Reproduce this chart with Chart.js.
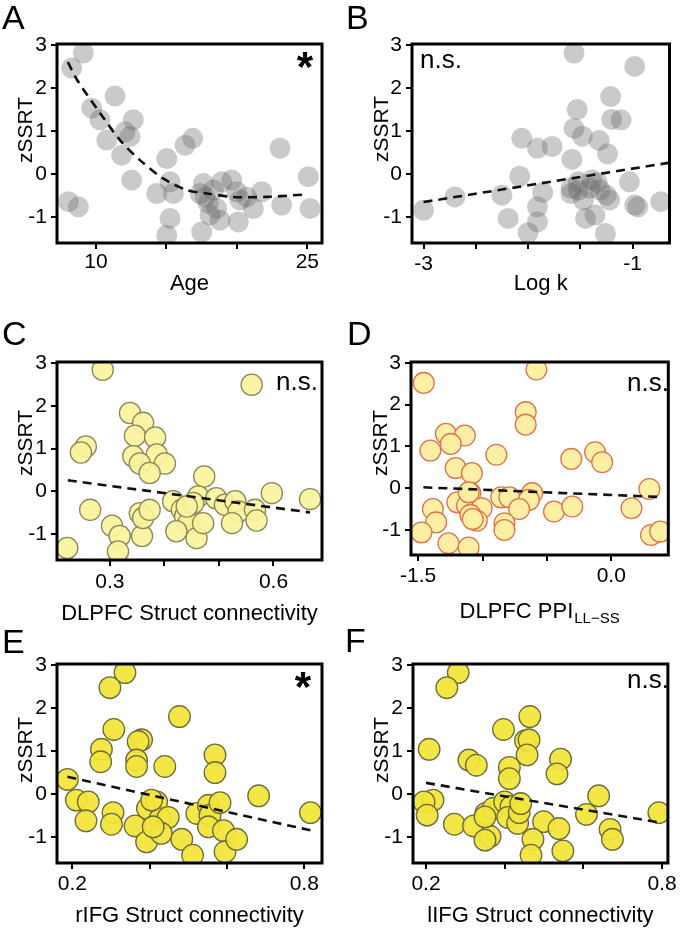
<!DOCTYPE html>
<html>
<head>
<meta charset="utf-8">
<title>zSSRT correlations</title>
<script src="https://cdn.jsdelivr.net/npm/chart.js@4.4.1/dist/chart.umd.min.js"></script>
<style>
    html, body { margin: 0; padding: 0; background: #fff; overflow: hidden; }
    #fig { position: relative; width: 680px; height: 930px; }
    #fig canvas { position: absolute; }
</style>
</head>
<body>
<div id="fig"></div>
<script>
// --- Data ---

// Y axis (shared by all panels)
const yTicks = [-1, 0, 1, 2, 3];
const yTickLabels = ['-1', '0', '1', '2', '3'];

// A: Age
const ageX = [9.10, 8.27, 11.35, 9.69, 10.28, 12.65, 12.06, 12.41, 10.76, 16.32, 16.86, 11.82, 15.02, 23.06, 12.53, 25.07, 14.31, 15.25, 15.49, 8.04, 8.75, 15.25, 15.02, 17.50, 17.62, 17.74, 17.97, 18.09, 18.80, 18.92, 19.63, 20.10, 19.98, 20.69, 21.17, 21.76, 23.18, 25.19, 18.33, 17.38, 20.22, 18.56];
const ageY = [2.81, 2.46, 1.81, 1.53, 1.26, 1.26, 0.98, 0.87, 0.79, 0.67, 0.83, 0.44, 0.36, 0.60, -0.14, -0.06, -0.45, -0.18, -0.45, -0.64, -0.76, -1.03, -1.42, -1.34, -0.22, -0.53, -0.68, -0.95, -1.07, -0.18, -0.14, -1.11, -0.41, -0.53, -0.80, -0.41, -0.72, -0.80, -0.37, -0.45, -0.60, -0.80];
const ageFitX = [8.0, 8.65, 10.28, 11.7, 13.1, 14.76, 16.45, 17.9, 19.7, 22.1, 25.0];
const ageFitY = [2.6, 2.19, 1.42, 0.79, 0.33, -0.10, -0.37, -0.45, -0.53, -0.53, -0.47];
const ageTicks = [10, 15, 20, 25];
const ageTickLabels = ['10', '', '', '25'];

// B: Log k
const logkX = [-1.56, -0.98, -1.21, -1.53, -1.20, -1.11, -1.56, -1.48, -1.32, -2.06, -1.91, -1.77, -1.24, -1.58, -2.08, -1.03, -2.70, -3.00, -2.25, -1.86, -1.91, -2.19, -1.91, -2.00, -1.59, -1.59, -1.52, -1.47, -1.45, -1.39, -1.34, -1.31, -1.25, -1.22, -1.36, -1.26, -0.98, -0.95, -0.73, -1.52, -1.41];
const logkY = [2.81, 2.50, 1.80, 1.50, 1.27, 1.26, 1.06, 0.88, 0.78, 0.83, 0.60, 0.64, 0.47, 0.34, -0.05, -0.18, -0.53, -0.84, -0.49, -0.43, -0.76, -1.03, -1.11, -1.36, -0.33, -0.45, -0.37, -0.60, -1.03, -0.14, -0.20, -0.37, -0.49, -0.60, -0.95, -1.38, -0.72, -0.76, -0.64, -0.18, -0.33];
const logkFitX = [-3.0, -0.66];
const logkFitY = [-0.65, 0.26];
const logkTicks = [-3, -2.5, -2, -1.5, -1];
const logkTickLabels = ['-3', '', '', '', '-1'];

// C: DLPFC structural connectivity
const dlpfcStructX = [0.287, 0.560, 0.337, 0.361, 0.346, 0.383, 0.256, 0.247, 0.343, 0.386, 0.355, 0.401, 0.373, 0.473, 0.597, 0.667, 0.264, 0.304, 0.318, 0.315, 0.222, 0.359, 0.355, 0.361, 0.373, 0.416, 0.432, 0.438, 0.444, 0.422, 0.459, 0.471, 0.462, 0.453, 0.495, 0.511, 0.530, 0.536, 0.524, 0.566, 0.569, 0.441];
const dlpfcStructY = [2.84, 2.49, 1.83, 1.60, 1.30, 1.26, 1.05, 0.91, 0.82, 0.86, 0.65, 0.65, 0.43, 0.35, -0.04, -0.18, -0.43, -0.80, -1.04, -1.40, -1.32, -1.04, -0.51, -0.62, -0.43, -0.23, -0.43, -0.58, -0.74, -0.93, -1.09, -0.74, -0.12, -0.27, -0.16, -0.31, -0.23, -0.47, -0.74, -0.43, -0.68, -0.35];
const dlpfcStructFitX = [0.223, 0.667];
const dlpfcStructFitY = [0.26, -0.49];
const dlpfcStructTicks = [0.3, 0.4, 0.5, 0.6];
const dlpfcStructTickLabels = ['0.3', '', '', '0.6'];

// D: DLPFC PPI (LL-SS)
const dlpfcPpiX = [-0.582, -1.457, -0.665, -0.665, -1.285, -1.138, -1.247, -1.406, -0.893, -0.311, -0.126, -0.071, -1.209, -1.083, 0.296, -1.095, -1.196, -0.855, -0.792, -0.615, -0.640, -0.716, -0.445, -0.303, 0.157, -1.386, -1.361, -1.475, -1.265, -1.108, -1.121, -1.007, -1.095, -1.045, -1.077, -0.830, -0.830, 0.309, 0.380, -1.108];
const dlpfcPpiY = [2.84, 2.52, 1.82, 1.52, 1.30, 1.26, 1.06, 0.90, 0.80, 0.70, 0.86, 0.62, 0.48, 0.36, -0.02, -0.12, -0.34, -0.22, -0.22, -0.12, -0.28, -0.50, -0.56, -0.44, -0.48, -0.50, -0.82, -1.06, -1.32, -1.42, -0.42, -0.48, -0.64, -0.78, -0.74, -0.84, -1.00, -1.12, -1.04, -0.10];
const dlpfcPpiFitX = [-1.46, 0.37];
const dlpfcPpiFitY = [0.02, -0.21];
const dlpfcPpiTicks = [-1.5, -1.0, -0.5, 0.0];
const dlpfcPpiTickLabels = ['-1.5', '', '', '0.0'];

// E: rIFG structural connectivity
const rifgX = [0.336, 0.297, 0.477, 0.307, 0.379, 0.370, 0.275, 0.273, 0.366, 0.366, 0.439, 0.569, 0.569, 0.187, 0.210, 0.241, 0.235, 0.305, 0.301, 0.362, 0.392, 0.394, 0.418, 0.427, 0.448, 0.430, 0.483, 0.511, 0.522, 0.552, 0.556, 0.582, 0.552, 0.591, 0.595, 0.625, 0.682, 0.816, 0.409, 0.405];
const rifgY = [2.82, 2.47, 1.80, 1.50, 1.26, 1.22, 1.04, 0.75, 0.79, 0.64, 0.64, 0.91, 0.50, 0.34, -0.14, -0.18, -0.62, -0.43, -0.70, -0.74, -1.11, -0.33, -0.18, -0.57, -0.54, -0.91, -1.05, -1.42, -0.45, -0.26, -0.49, -0.20, -0.76, -0.85, -1.34, -1.05, -0.04, -0.43, -0.76, -0.14];
const rifgFitX = [0.187, 0.816];
const rifgFitY = [0.40, -0.84];

// F: lIFG structural connectivity
const lifgX = [0.282, 0.253, 0.464, 0.397, 0.453, 0.462, 0.457, 0.208, 0.309, 0.328, 0.412, 0.412, 0.542, 0.533, 0.639, 0.792, 0.218, 0.195, 0.203, 0.272, 0.321, 0.352, 0.371, 0.363, 0.350, 0.400, 0.416, 0.408, 0.433, 0.437, 0.441, 0.499, 0.472, 0.467, 0.538, 0.548, 0.608, 0.668, 0.674, 0.350];
const lifgY = [2.82, 2.47, 1.80, 1.50, 1.24, 1.26, 0.91, 1.04, 0.79, 0.67, 0.62, 0.36, 0.81, 0.47, -0.04, -0.43, -0.14, -0.18, -0.49, -0.70, -0.74, -0.45, -0.33, -0.98, -1.07, -0.18, -0.29, -0.54, -0.68, -0.43, -0.22, -0.64, -1.05, -1.42, -0.80, -1.32, -0.47, -0.82, -1.05, -0.53];
const lifgFitX = [0.20, 0.80];
const lifgFitY = [0.26, -0.67];

const ifgTicks = [0.2, 0.4, 0.6, 0.8];
const ifgTickLabels = ['0.2', '', '', '0.8'];

// --- Styles ---
const FONT = "'Liberation Sans', Arial, Helvetica, sans-serif";
const dotStyles = {
    gray:   { fill: 'rgba(100,100,100,0.34)', border: 'rgba(100,100,100,0)', bw: 0, r: 10.5 },
    pale:   { fill: 'rgba(250,243,158,0.93)', border: '#8c885a', bw: 1.3, r: 10.6 },
    peach:  { fill: 'rgba(253,239,160,0.95)', border: '#dd7350', bw: 1.3, r: 10.4 },
    yellow: { fill: 'rgba(242,229,58,0.93)', border: '#6e6a3c', bw: 1.3, r: 10.8 }
};

// --- Panel layout (page pixels) ---
const rowTops = [0, 305, 600];
const CANVAS_W = 340, CANVAS_H = 330;

const panels = [
    { letter: 'A', col: 0, row: 0, xs: ageX, ys: ageY, fitX: ageFitX, fitY: ageFitY, tension: 0.3,
      xTicks: ageTicks, xLabels: ageTickLabels, xMin: 7.23, xMax: 26.04, xTitle: 'Age', style: 'gray',
      box: { l: 57, r: 322, t: 44, b: 243 }, letterPos: [2, 29], yTitlePos: [32, 130], xTitleBase: 290, xTickPad: 1,
      sig: { text: '*', cx: 305, cy: 60 } },
    { letter: 'B', col: 1, row: 0, xs: logkX, ys: logkY, fitX: logkFitX, fitY: logkFitY, tension: 0,
      xTicks: logkTicks, xLabels: logkTickLabels, xMin: -3.11, xMax: -0.647, xTitle: 'Log k', style: 'gray',
      box: { l: 412, r: 674, t: 44, b: 243 }, letterPos: [346, 29], yTitlePos: [388, 129], xTitleBase: 290, xTickPad: 3,
      sig: { text: 'n.s.', x: 420, base: 68, align: 'left' } },
    { letter: 'C', col: 0, row: 1, xs: dlpfcStructX, ys: dlpfcStructY, fitX: dlpfcStructFitX, fitY: dlpfcStructFitY, tension: 0,
      xTicks: dlpfcStructTicks, xLabels: dlpfcStructTickLabels, xMin: 0.2032, xMax: 0.6889, xTitle: 'DLPFC Struct connectivity', style: 'pale',
      box: { l: 57, r: 322, t: 362, b: 560 }, letterPos: [2, 345], yTitlePos: [32, 443], xTitleBase: 620, xTickPad: 4,
      sig: { text: 'n.s.', x: 318, base: 390, align: 'right' } },
    { letter: 'D', col: 1, row: 1, xs: dlpfcPpiX, ys: dlpfcPpiY, fitX: dlpfcPpiFitX, fitY: dlpfcPpiFitY, tension: 0,
      xTicks: dlpfcPpiTicks, xLabels: dlpfcPpiTickLabels, xMin: -1.556, xMax: 0.443, xTitle: 'DLPFC PPI', xTitleSub: 'LL\u2212SS', style: 'peach',
      box: { l: 411, r: 674, t: 362, b: 555 }, letterPos: [347, 345], yTitlePos: [387, 443], xTitleBase: 618, xTickPad: 2.4,
      sig: { text: 'n.s.', x: 669, base: 391, align: 'right' } },
    { letter: 'E', col: 0, row: 2, xs: rifgX, ys: rifgY, fitX: rifgFitX, fitY: rifgFitY, tension: 0,
      xTicks: ifgTicks, xLabels: ifgTickLabels, xMin: 0.160, xMax: 0.846, xTitle: 'rIFG Struct connectivity', style: 'yellow',
      box: { l: 57, r: 322, t: 664, b: 863 }, letterPos: [2, 653], yTitlePos: [32, 750], xTitleBase: 921.7, xTickPad: 3,
      sig: { text: '*', cx: 303, cy: 680 } },
    { letter: 'F', col: 1, row: 2, xs: lifgX, ys: lifgY, fitX: lifgFitX, fitY: lifgFitY, tension: 0,
      xTicks: ifgTicks, xLabels: ifgTickLabels, xMin: 0.167, xMax: 0.815, xTitle: 'lIFG Struct connectivity', style: 'yellow',
      box: { l: 413, r: 674, t: 664, b: 863 }, letterPos: [345, 652], yTitlePos: [388, 750], xTitleBase: 921.7, xTickPad: 3,
      sig: { text: 'n.s.', x: 669, base: 688, align: 'right' } }
];

// Draws the box, panel letter, axis titles and significance mark
function panelDecor(p, offX, offY) {
    return {
        id: 'panelDecor' + p.letter,
        afterDatasetsDraw(chart) {
            const ctx = chart.ctx;
            const a = chart.chartArea;
            ctx.save();
            ctx.strokeStyle = '#000';
            ctx.lineWidth = 3;
            ctx.strokeRect(a.left, a.top, a.right - a.left, a.bottom - a.top);
            ctx.restore();
        },
        afterDraw(chart) {
            const ctx = chart.ctx;
            const a = chart.chartArea;
            ctx.save();
            ctx.fillStyle = '#000';
            ctx.textBaseline = 'alphabetic';

            // panel letter
            ctx.font = '34px ' + FONT;
            ctx.textAlign = 'left';
            ctx.fillText(p.letter, p.letterPos[0] - offX, p.letterPos[1] - offY);

            // y title
            ctx.save();
            ctx.translate(p.yTitlePos[0] - offX, p.yTitlePos[1] - offY);
            ctx.rotate(-Math.PI / 2);
            ctx.font = '21px ' + FONT;
            ctx.textAlign = 'center';
            ctx.fillText('zSSRT', 0, 0);
            ctx.restore();

            // x title (with optional subscript)
            const cx = (a.left + a.right) / 2;
            const base = p.xTitleBase - offY;
            ctx.font = '22px ' + FONT;
            if (p.xTitleSub) {
                const w1 = ctx.measureText(p.xTitle).width;
                ctx.font = '15px ' + FONT;
                const w2 = ctx.measureText(p.xTitleSub).width;
                const x0 = cx - (w1 + w2 + 1) / 2;
                ctx.textAlign = 'left';
                ctx.font = '22px ' + FONT;
                ctx.fillText(p.xTitle, x0, base);
                ctx.font = '15px ' + FONT;
                ctx.fillText(p.xTitleSub, x0 + w1 + 1, base + 5);
            } else {
                ctx.textAlign = 'center';
                ctx.fillText(p.xTitle, cx, base);
            }

            // significance
            const s = p.sig;
            if (s.text === '*') {
                ctx.textAlign = 'center';
                ctx.font = 'bold 100px ' + FONT;
                const m = ctx.measureText('*');
                const h = m.actualBoundingBoxAscent + m.actualBoundingBoxDescent;
                const size = 100 * 16 / h;
                ctx.font = 'bold ' + size.toFixed(1) + 'px ' + FONT;
                const m2 = ctx.measureText('*');
                const gy = s.cy - offY + (m2.actualBoundingBoxAscent - m2.actualBoundingBoxDescent) / 2;
                ctx.fillText('*', s.cx - offX, gy);
            } else {
                ctx.font = '26px ' + FONT;
                ctx.textAlign = s.align;
                ctx.fillText(s.text, s.x - offX, s.base - offY);
            }
            ctx.restore();
        }
    };
}

function makePanel(p) {
    const fig = document.getElementById('fig');
    const canvas = document.createElement('canvas');
    const offX = p.col * 340;
    const offY = rowTops[p.row];
    canvas.width = CANVAS_W;
    canvas.height = CANVAS_H;
    canvas.style.left = offX + 'px';
    canvas.style.top = offY + 'px';
    fig.appendChild(canvas);

    const b = p.box;
    const st = dotStyles[p.style];
    const tickFont = { family: FONT, size: 21 };

    new Chart(canvas, {
        type: 'scatter',
        data: {
            datasets: [
                {
                    type: 'line',
                    data: p.fitX.map((x, i) => ({ x: x, y: p.fitY[i] })),
                    borderColor: '#111',
                    borderWidth: 2.6,
                    borderDash: [9, 6],
                    pointRadius: 0,
                    fill: false,
                    tension: p.tension,
                    order: 0,
                    clip: 0
                },
                {
                    data: p.xs.map((x, i) => ({ x: x, y: p.ys[i] })),
                    backgroundColor: st.fill,
                    borderColor: st.border,
                    borderWidth: st.bw,
                    pointRadius: st.r,
                    pointHoverRadius: st.r,
                    order: 1,
                    clip: 0
                }
            ]
        },
        options: {
            responsive: false,
            animation: false,
            devicePixelRatio: 1,
            events: [],
            layout: { padding: { left: 0, top: b.t - offY, right: offX + CANVAS_W - b.r, bottom: 0 } },
            plugins: { legend: { display: false }, tooltip: { enabled: false } },
            scales: {
                x: {
                    type: 'linear',
                    position: 'bottom',
                    min: p.xMin,
                    max: p.xMax,
                    afterBuildTicks: (s) => { s.ticks = p.xTicks.map(v => ({ value: v })); },
                    afterFit: (s) => { s.height = offY + CANVAS_H - b.b; s.paddingLeft = 0; s.paddingRight = 0; },
                    ticks: {
                        autoSkip: false, maxRotation: 0, minRotation: 0,
                        padding: p.xTickPad, color: '#000', font: tickFont,
                        callback: (v, i) => p.xLabels[i]
                    },
                    grid: { drawOnChartArea: false, drawTicks: true, tickLength: 6, color: '#000', lineWidth: 2 },
                    border: { display: false }
                },
                y: {
                    type: 'linear',
                    position: 'left',
                    min: -1.6,
                    max: 3.02,
                    afterBuildTicks: (s) => { s.ticks = yTicks.map(v => ({ value: v })); },
                    afterFit: (s) => { s.width = b.l - offX; s.paddingTop = 0; s.paddingBottom = 0; },
                    ticks: {
                        autoSkip: false, padding: 4, color: '#000', font: tickFont,
                        callback: (v, i) => yTickLabels[i]
                    },
                    grid: { drawOnChartArea: false, drawTicks: true, tickLength: 6, color: '#000', lineWidth: 2 },
                    border: { display: false }
                }
            }
        },
        plugins: [panelDecor(p, offX, offY)]
    });
}

panels.forEach(makePanel);
</script>
</body>
</html>
